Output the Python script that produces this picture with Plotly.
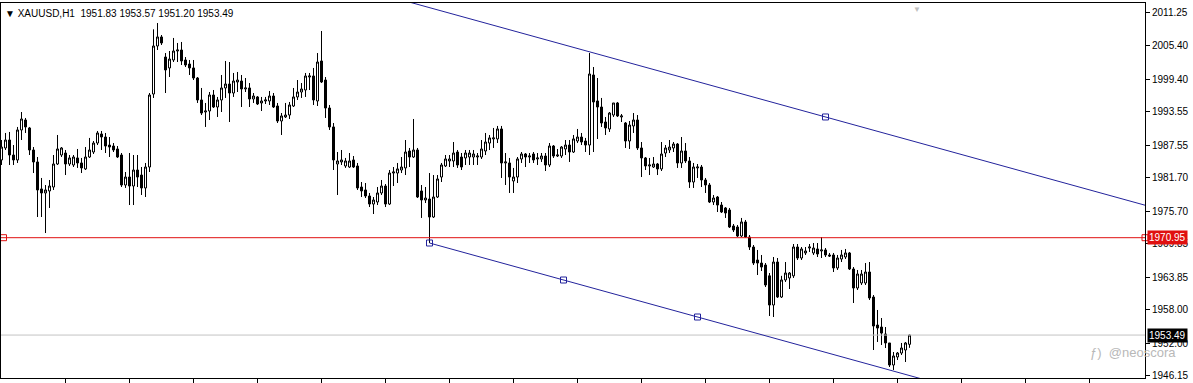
import plotly.graph_objects as go

# ---------------- data ----------------
opens = [
    1984.89, 1987.04, 1988.47, 1985.78, 1984.89, 1990.27, 1992.06, 1990.63, 1986.68, 1984.53,
    1979.69, 1978.97, 1979.33, 1980.04, 1984.17, 1985.78, 1986.14, 1984.17, 1983.99, 1985.25,
    1984.35, 1983.28, 1985.42, 1986.32, 1987.93, 1989.55, 1989.01, 1987.57, 1987.39, 1986.86,
    1985.78, 1980.40, 1981.83, 1980.22, 1983.09, 1982.19, 1979.87, 1983.63, 1996.72, 2005.33,
    2006.95, 2003.35, 2001.39, 2002.82, 2004.43, 2004.61, 2002.82, 2002.10, 2001.39, 1999.59,
    1995.65, 1993.49, 1993.67, 1996.54, 1994.39, 1995.65, 1997.80, 1998.51, 1996.90, 1998.87,
    1999.05, 1997.62, 1997.80, 1995.83, 1996.19, 1995.11, 1995.47, 1995.47, 1996.36, 1994.57,
    1991.88, 1992.60, 1992.95, 1994.57, 1996.19, 1997.08, 1997.44, 1999.77, 1999.95, 1995.47,
    2002.64, 1999.23, 1994.21, 1990.81, 1984.17, 1984.53, 1983.81, 1983.63, 1984.89, 1983.81,
    1980.04, 1979.51, 1978.43, 1976.99, 1977.35, 1978.97, 1980.22, 1976.99, 1982.55, 1982.55,
    1983.09, 1983.46, 1986.50, 1985.42, 1986.68, 1979.33, 1977.71, 1977.89, 1974.66, 1978.25,
    1981.83, 1983.81, 1984.71, 1984.71, 1986.32, 1985.42, 1985.25, 1985.42, 1985.42, 1985.42,
    1985.42, 1986.50, 1987.93, 1988.66, 1988.66, 1990.45, 1984.35, 1984.35, 1981.12, 1981.83,
    1985.07, 1985.96, 1985.42, 1985.96, 1985.07, 1985.07, 1985.60, 1983.99, 1987.39, 1985.60,
    1985.60, 1986.86, 1987.57, 1986.32, 1988.29, 1989.01, 1988.29, 1987.57, 2000.13, 1995.47,
    1994.39, 1991.70, 1990.45, 1992.95, 1995.11, 1992.60, 1991.52, 1988.29, 1990.99, 1992.06,
    1987.04, 1985.25, 1983.81, 1983.63, 1984.17, 1983.28, 1986.14, 1986.68, 1987.04, 1987.75,
    1984.35, 1986.50, 1984.71, 1980.94, 1983.46, 1983.63, 1981.30, 1980.40, 1977.35, 1978.25,
    1976.81, 1976.28, 1975.92, 1973.05, 1972.87, 1971.25, 1973.77, 1971.07, 1969.28, 1966.95,
    1966.41, 1966.05, 1964.11, 1958.88, 1966.59, 1960.31, 1963.37, 1963.73, 1964.11, 1969.28,
    1967.31, 1968.21, 1969.10, 1968.21, 1968.93, 1968.57, 1968.75, 1967.85, 1967.85, 1965.52,
    1967.13, 1967.49, 1968.21, 1965.34, 1961.93, 1962.83, 1962.83, 1964.80, 1960.31, 1955.29,
    1954.93, 1953.68, 1952.07, 1948.12, 1949.56, 1950.27, 1950.81, 1951.83,
]
highs = [
    1988.47, 1989.73, 1989.91, 1987.57, 1990.81, 1993.49, 1992.42, 1990.81, 1987.21, 1985.42,
    1981.66, 1980.40, 1981.30, 1985.78, 1989.37, 1987.21, 1986.68, 1985.78, 1985.78, 1986.86,
    1985.25, 1987.21, 1988.84, 1988.29, 1990.09, 1990.09, 1989.73, 1989.01, 1987.93, 1987.39,
    1986.14, 1982.73, 1986.14, 1985.78, 1985.78, 1983.63, 1984.35, 1996.90, 2008.32, 2009.45,
    2007.30, 2004.07, 2004.43, 2006.77, 2005.87, 2006.05, 2003.35, 2002.82, 2002.82, 1999.77,
    1997.80, 1995.11, 1997.08, 1997.44, 1996.19, 2000.13, 2002.64, 2002.46, 2000.49, 2000.67,
    2000.13, 1999.59, 1998.69, 1996.90, 1996.36, 1996.19, 1996.19, 1997.26, 1996.90, 1995.11,
    1993.31, 1995.11, 1995.29, 1997.80, 1999.23, 1998.69, 2000.49, 2000.49, 2001.39, 2004.07,
    2008.02, 1999.77, 1994.75, 1991.52, 1986.32, 1986.68, 1985.25, 1986.14, 1985.60, 1984.35,
    1980.94, 1980.76, 1978.97, 1978.25, 1980.04, 1981.30, 1980.58, 1983.09, 1983.63, 1984.35,
    1985.42, 1988.47, 1987.04, 1992.24, 1987.04, 1980.40, 1980.04, 1982.55, 1982.19, 1982.19,
    1984.35, 1985.78, 1985.78, 1988.11, 1986.68, 1986.14, 1986.68, 1986.68, 1986.68, 1986.14,
    1988.47, 1989.73, 1989.37, 1990.63, 1990.99, 1990.99, 1986.14, 1985.25, 1983.46, 1985.42,
    1986.32, 1986.14, 1986.14, 1986.32, 1986.14, 1986.14, 1986.14, 1987.93, 1987.57, 1986.86,
    1987.39, 1988.47, 1988.47, 1989.37, 1990.45, 1989.73, 1988.84, 2004.07, 2001.56, 1999.59,
    1996.01, 1992.60, 1993.49, 1995.11, 1995.29, 1993.13, 1991.70, 1991.88, 1993.31, 1992.95,
    1988.11, 1985.42, 1985.25, 1985.42, 1984.35, 1988.11, 1987.57, 1988.47, 1988.11, 1987.93,
    1989.01, 1987.93, 1985.42, 1984.35, 1984.17, 1983.99, 1981.66, 1980.76, 1978.61, 1978.43,
    1977.35, 1976.45, 1976.28, 1973.41, 1973.23, 1974.49, 1974.13, 1971.43, 1969.64, 1968.75,
    1967.85, 1966.41, 1964.62, 1967.49, 1967.31, 1964.11, 1966.59, 1964.80, 1969.82, 1969.82,
    1969.28, 1969.28, 1969.82, 1970.00, 1970.00, 1971.07, 1969.10, 1968.21, 1968.21, 1967.85,
    1968.75, 1968.93, 1968.39, 1965.69, 1965.16, 1965.16, 1966.41, 1966.59, 1960.67, 1957.99,
    1956.55, 1954.93, 1952.07, 1950.45, 1950.45, 1952.07, 1952.25, 1953.57,
]
lows = [
    1983.99, 1986.68, 1983.99, 1983.99, 1984.35, 1988.47, 1989.73, 1985.78, 1982.55, 1974.66,
    1974.66, 1971.79, 1976.28, 1979.51, 1983.99, 1985.42, 1982.19, 1983.81, 1983.63, 1983.46,
    1982.55, 1983.09, 1985.25, 1985.96, 1987.57, 1986.68, 1986.14, 1985.42, 1986.32, 1985.25,
    1980.04, 1979.87, 1976.81, 1976.81, 1980.04, 1978.61, 1978.25, 1982.73, 1996.01, 2004.61,
    2005.51, 1996.90, 1999.77, 2002.46, 2002.46, 2001.92, 2001.56, 2000.13, 1999.23, 1995.11,
    1992.95, 1990.81, 1992.06, 1994.21, 1992.60, 1993.49, 1996.01, 1991.70, 1996.19, 1997.08,
    1994.39, 1997.08, 1994.39, 1995.11, 1994.75, 1993.67, 1994.93, 1994.75, 1994.21, 1991.52,
    1989.37, 1992.42, 1992.24, 1994.39, 1995.65, 1996.01, 1996.19, 1997.44, 1994.75, 1994.57,
    1998.69, 1992.42, 1990.27, 1983.09, 1978.61, 1983.99, 1983.46, 1983.46, 1983.46, 1979.51,
    1978.25, 1978.07, 1976.45, 1975.20, 1976.81, 1978.61, 1976.45, 1976.81, 1980.22, 1980.76,
    1982.55, 1982.19, 1983.63, 1985.25, 1978.07, 1974.49, 1977.17, 1970.00, 1974.49, 1978.07,
    1980.94, 1983.63, 1983.63, 1983.63, 1983.46, 1983.09, 1983.99, 1983.99, 1983.99, 1983.99,
    1985.07, 1985.78, 1986.68, 1987.04, 1987.93, 1981.66, 1980.40, 1978.97, 1978.97, 1980.76,
    1984.35, 1983.63, 1984.35, 1984.35, 1983.99, 1984.53, 1982.91, 1983.63, 1985.25, 1985.42,
    1985.25, 1985.78, 1984.53, 1986.14, 1987.93, 1987.57, 1986.32, 1985.78, 1986.32, 1988.65,
    1990.81, 1989.37, 1989.91, 1992.60, 1992.60, 1991.70, 1987.04, 1986.86, 1989.73, 1986.68,
    1981.83, 1983.09, 1982.19, 1983.46, 1982.19, 1982.91, 1985.42, 1986.14, 1986.32, 1983.46,
    1983.46, 1984.35, 1979.87, 1979.87, 1981.66, 1980.04, 1978.97, 1977.17, 1976.81, 1975.56,
    1975.38, 1974.49, 1972.69, 1971.97, 1971.07, 1971.07, 1970.90, 1968.75, 1966.05, 1964.26,
    1964.98, 1962.11, 1956.91, 1956.73, 1960.14, 1960.14, 1963.01, 1961.75, 1963.73, 1966.95,
    1966.95, 1967.85, 1968.39, 1967.85, 1967.49, 1967.31, 1967.49, 1967.49, 1964.80, 1965.16,
    1966.59, 1967.13, 1965.16, 1959.24, 1961.57, 1962.47, 1962.47, 1959.78, 1950.81, 1952.25,
    1951.71, 1951.17, 1947.76, 1947.23, 1949.02, 1949.92, 1948.66, 1951.20,
]
closes = [
    1987.21, 1988.47, 1985.78, 1984.89, 1990.27, 1992.24, 1990.81, 1986.68, 1984.53, 1979.51,
    1978.97, 1979.51, 1980.22, 1984.17, 1986.86, 1987.04, 1984.17, 1985.25, 1985.42, 1984.35,
    1983.46, 1985.42, 1986.68, 1987.93, 1989.73, 1989.01, 1987.39, 1987.21, 1986.68, 1985.42,
    1980.40, 1981.83, 1980.22, 1983.09, 1981.83, 1979.87, 1983.63, 1996.54, 2005.33, 2006.95,
    2005.87, 2001.03, 2002.99, 2004.43, 2004.61, 2002.64, 2001.92, 2001.39, 1999.59, 1995.65,
    1993.31, 1993.67, 1996.54, 1994.39, 1995.65, 1997.80, 1998.51, 1996.90, 1999.05, 1999.23,
    1997.62, 1997.80, 1995.83, 1996.36, 1994.93, 1995.47, 1995.65, 1996.36, 1994.39, 1991.88,
    1992.78, 1992.95, 1994.75, 1996.19, 1997.08, 1997.62, 1999.95, 1999.95, 1995.65, 2002.46,
    1998.87, 1994.21, 1990.81, 1984.89, 1984.71, 1984.89, 1984.71, 1984.71, 1983.63, 1979.87,
    1979.33, 1978.43, 1976.99, 1977.71, 1978.97, 1980.22, 1976.99, 1982.55, 1982.73, 1983.28,
    1983.63, 1986.32, 1985.42, 1986.68, 1978.25, 1977.71, 1978.07, 1974.66, 1978.25, 1981.48,
    1983.99, 1985.07, 1985.07, 1986.14, 1983.99, 1983.63, 1986.14, 1986.14, 1985.96, 1985.60,
    1986.86, 1988.11, 1988.84, 1988.84, 1990.45, 1984.35, 1984.53, 1981.83, 1981.83, 1985.07,
    1985.96, 1985.42, 1985.60, 1984.89, 1985.25, 1985.60, 1983.99, 1987.39, 1985.60, 1985.78,
    1987.21, 1987.57, 1986.32, 1988.66, 1989.01, 1988.11, 1987.57, 2000.31, 1995.29, 1994.39,
    1991.52, 1990.63, 1993.31, 1995.11, 1992.78, 1992.78, 1988.29, 1991.16, 1992.06, 1987.04,
    1985.25, 1983.81, 1983.99, 1984.17, 1983.28, 1985.96, 1987.04, 1987.21, 1987.75, 1984.35,
    1986.50, 1984.71, 1980.94, 1983.63, 1983.63, 1981.30, 1980.40, 1977.35, 1978.07, 1976.81,
    1975.56, 1975.38, 1972.87, 1972.33, 1971.25, 1973.77, 1971.07, 1969.28, 1966.41, 1966.41,
    1965.69, 1962.47, 1958.88, 1966.59, 1960.31, 1963.37, 1964.62, 1964.62, 1969.28, 1967.31,
    1968.93, 1968.57, 1969.28, 1969.10, 1968.03, 1968.75, 1967.85, 1967.67, 1965.52, 1967.31,
    1967.85, 1968.21, 1965.34, 1961.93, 1964.44, 1964.44, 1964.80, 1960.14, 1955.11, 1954.75,
    1953.85, 1952.07, 1948.12, 1949.74, 1950.27, 1951.17, 1952.07, 1953.49,
]
bars = list(range(len(opens)))

symbol_label = "XAUUSD,H1"
red_level = 1970.95
bid_price = 1953.49
y_ticks = [2011.25, 2005.40, 1999.40, 1993.55, 1987.55, 1981.70,
           1975.70, 1969.85, 1963.85, 1958.00, 1952.00, 1946.15]
x_ticks = list(range(16, 287, 16))

# channel anchors (bar index, price)
lower_anchor_bars = [107, 174]
lower_anchor_prices = [1970.00, 1956.73]
upper_anchor_bar = 206
upper_anchor_price = 1992.60

x_range = [-0.125, 285.875]
y_range = [1945.79, 2013.04]

FONT = "Liberation Sans"
CH_COLOR = "#23239c"
RED = "#e01010"

# ---------------- figure ----------------
fig = go.Figure()

# bid line
fig.add_trace(go.Scatter(x=x_range, y=[bid_price, bid_price], mode="lines",
                         line=dict(color="#c4c4c4", width=1), hoverinfo="skip"))

fig.add_trace(go.Candlestick(
    x=bars, open=opens, high=highs, low=lows, close=closes,
    increasing=dict(line=dict(color="black", width=1), fillcolor="white"),
    decreasing=dict(line=dict(color="black", width=1), fillcolor="black"),
    whiskerwidth=0,
))

# red horizontal level
fig.add_trace(go.Scatter(x=x_range, y=[red_level, red_level], mode="lines",
                         line=dict(color=RED, width=1), hoverinfo="skip"))
fig.add_trace(go.Scatter(x=[0.5, x_range[1]], y=[red_level, red_level], mode="markers",
                         marker=dict(symbol="square-open", size=6, color=RED, line=dict(width=1)),
                         cliponaxis=False, hoverinfo="skip"))

# channel
b1, b2 = lower_anchor_bars
p1, p2 = lower_anchor_prices
slope = (p2 - p1) / (b2 - b1)
lx = [b1, 240]
ly = [p1 + slope * (x - b1) for x in lx]
ux = [90, 290]
uy = [upper_anchor_price + slope * (x - upper_anchor_bar) for x in ux]
fig.add_trace(go.Scatter(x=lx, y=ly, mode="lines", line=dict(color=CH_COLOR, width=1),
                         hoverinfo="skip"))
fig.add_trace(go.Scatter(x=ux, y=uy, mode="lines", line=dict(color=CH_COLOR, width=1),
                         hoverinfo="skip"))
mid_b = (b1 + b2) / 2
mx = [b1, mid_b, b2, upper_anchor_bar]
my = [p1, p1 + slope * (mid_b - b1), p2, upper_anchor_price]
fig.add_trace(go.Scatter(x=mx, y=my, mode="markers",
                         marker=dict(symbol="square-open", size=6, color=CH_COLOR,
                                     line=dict(width=1)),
                         hoverinfo="skip"))

fig.update_layout(
    width=1193, height=383,
    margin=dict(l=1, r=48, t=3, b=5),
    paper_bgcolor="white", plot_bgcolor="white",
    showlegend=False,
    boxgap=0.5, boxgroupgap=0,
    font=dict(family=FONT, size=10, color="black"),
    xaxis=dict(range=x_range, rangeslider=dict(visible=False), showgrid=False,
               zeroline=False, showline=True, mirror=True, linecolor="black", linewidth=1,
               ticks="outside", ticklen=5, tickcolor="black", tickvals=x_ticks,
               showticklabels=False),
    yaxis=dict(range=y_range, side="right", showgrid=False, zeroline=False,
               showline=True, mirror=True, linecolor="black", linewidth=1,
               ticks="outside", ticklen=4, tickcolor="black",
               tickvals=y_ticks, ticktext=[f"{v:.2f}" for v in y_ticks],
               tickfont=dict(family=FONT, size=10, color="black")),
)

annotations = [
    dict(xref="paper", yref="paper", x=0, y=1, xanchor="left", yanchor="top",
         xshift=2, yshift=-3, showarrow=False,
         text=f"▼ {symbol_label}  {opens[-1]:.2f} {highs[-1]:.2f} {lows[-1]:.2f} {closes[-1]:.2f}",
         font=dict(family=FONT, size=10, color="black")),
    dict(xref="paper", yref="y", x=1, y=red_level, xanchor="left", yanchor="middle",
         xshift=2, showarrow=False, text=f"{red_level:.2f}", bgcolor=RED, borderpad=1,
         font=dict(family=FONT, size=10, color="white")),
    dict(xref="paper", yref="y", x=1, y=bid_price, xanchor="left", yanchor="middle",
         xshift=2, showarrow=False, text=f"{bid_price:.2f}", bgcolor="black", borderpad=1,
         font=dict(family=FONT, size=10, color="white")),
    dict(xref="paper", yref="y", x=1, y=1950.3, xanchor="center", yanchor="middle",
         xshift=-12, showarrow=False, text="ƒ)  @neoscora",
         font=dict(family=FONT, size=13, color="#b8b8b8")),
    dict(xref="x", yref="paper", x=228.75, y=1, xanchor="center", yanchor="top",
         showarrow=False, text="▼", font=dict(size=8, color="#c0c0c0")),
]
fig.update_layout(annotations=annotations)

fig.write_html("out.html")
